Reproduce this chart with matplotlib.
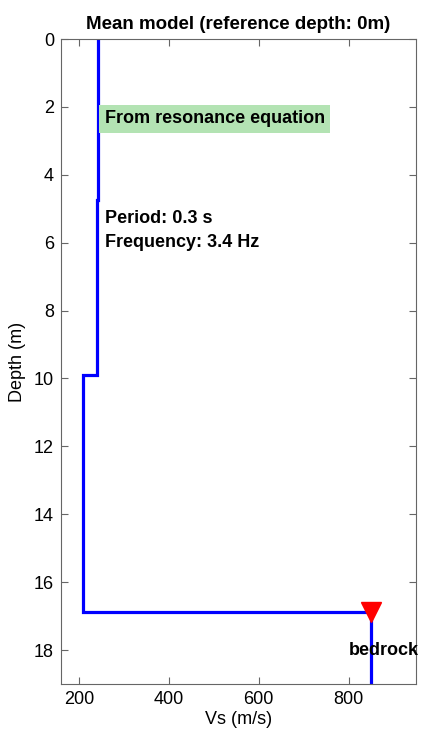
import numpy as np
import matplotlib
matplotlib.use("Agg")
import matplotlib.pyplot as plt

plt.rcParams['font.family'] = ['Liberation Sans', 'DejaVu Sans']

# layered Vs profile (top depth of each layer, velocity)
layer_top = [0, 4.75, 9.9, 16.88]
layer_vs = [243, 240, 208, 850]
max_depth = 19
bedrock_depth = 16.88
bedrock_vs = 850
period = 0.3
frequency = 3.4

# build staircase
xs = []
ys = []
for i in range(len(layer_top)):
    bottom = layer_top[i+1] if i+1 < len(layer_top) else max_depth
    xs += [layer_vs[i], layer_vs[i]]
    ys += [layer_top[i], bottom]

fig = plt.figure(figsize=(4.21, 7.38), dpi=100)
ax = fig.add_axes([61/421, 1-684/738, (416-61)/421, (684-39)/738])

ax.plot(xs, ys, color=(0, 0, 1), lw=2.3, solid_joinstyle='miter')
ax.plot(bedrock_vs, bedrock_depth, marker='v', color='red', markersize=14,
        markeredgecolor='red', linestyle='none')

ax.set_xlim(160, 950)
ax.set_ylim(max_depth, 0)
ax.set_xticks([200, 400, 600, 800])
ax.set_yticks(np.arange(0, 19, 2))
ax.tick_params(direction='in', top=True, right=True, labelsize=13, length=5, color='#666666', pad=5)
for s in ax.spines.values():
    s.set_color('#666666')

ax.set_title('Mean model (reference depth: 0m)', fontsize=13.5, fontweight='bold', pad=7)
ax.set_xlabel('Vs (m/s)', fontsize=13, labelpad=2)
ax.set_ylabel('Depth (m)', fontsize=13, labelpad=6)

ax.text(257, 2.35, 'From resonance equation', fontsize=13, fontweight='bold', va='center',
        bbox=dict(facecolor='#b3e3b3', edgecolor='none', pad=4))
ax.text(257, 5.3, 'Period: %.1f s' % period, fontsize=13, fontweight='bold', va='center')
ax.text(257, 6.0, 'Frequency: %.1f Hz' % frequency, fontsize=13, fontweight='bold', va='center')
ax.text(800, 18.0, 'bedrock', fontsize=13, fontweight='bold', va='center')

fig.savefig('out.png', dpi=100)
